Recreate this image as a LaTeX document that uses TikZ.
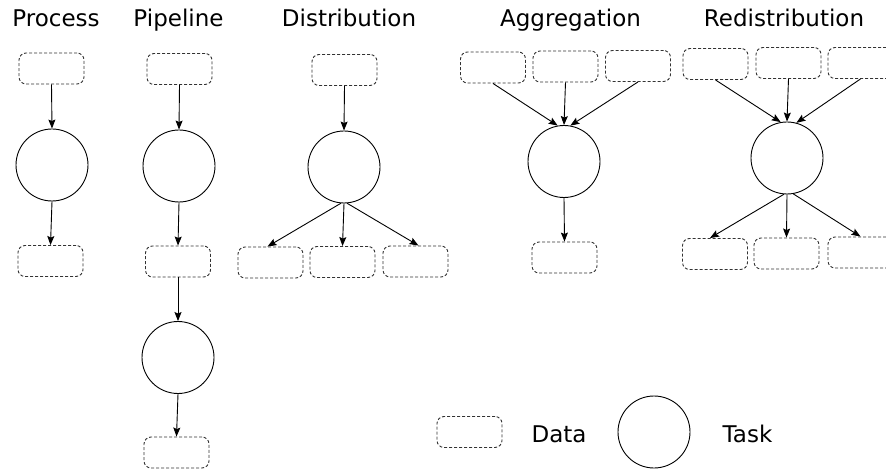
\documentclass[tikz,border=0pt]{standalone}
\usepackage{fontspec}
\setmainfont{DejaVu Sans}
\usetikzlibrary{arrows.meta}
\definecolor{dashgray}{HTML}{333333}
\tikzset{
  data/.style={draw=dashgray, line width=0.9pt, dash pattern=on 3pt off 2pt, rounded corners=7pt, minimum width=65pt, minimum height=31pt, inner sep=0pt},
  task/.style={draw=black, line width=0.9pt, circle, minimum size=72pt, inner sep=0pt},
  title/.style={anchor=base, font=\fontsize{23}{28}\selectfont},
  flow/.style={draw=black, line width=0.9pt, -{Stealth[length=9pt,width=7pt,inset=1.5pt]}}
}
\begin{document}
\begin{tikzpicture}[x=1pt,y=-1pt]
\useasboundingbox (0,0) rectangle (886,470);
\clip (0,0) rectangle (886,470);
% titles
\node[title] (tP) at (56,27) {Process};
\node[title] (tPi) at (178.5,27) {Pipeline};
\node[title] (tD) at (349,27) {Distribution};
\node[title] (tA) at (570.5,27) {Aggregation};
\node[title] (tR) at (784,27) {Redistribution};
% Process
\node[data] (p1) at (51.5,68.5) {};
\node[task] (pt) at (52,165) {};
\node[data] (p2) at (50.5,261) {};
\draw[flow] (p1.south) -- (pt.north);
\draw[flow] (pt.south) -- (p2.north);
% Pipeline
\node[data] (q1) at (179.5,69) {};
\node[task] (qt1) at (179,166) {};
\node[data] (q2) at (178,261.5) {};
\node[task] (qt2) at (178,357.5) {};
\node[data] (q3) at (176.5,452.5) {};
\draw[flow] (q1.south) -- (qt1.north);
\draw[flow] (qt1.south) -- (q2.north);
\draw[flow] (q2.south) -- (qt2.north);
\draw[flow] (qt2.south) -- (q3.north);
% Distribution
\node[data] (d0) at (344.5,70) {};
\node[task] (dt) at (344,167) {};
\node[data] (d1) at (270.5,262.5) {};
\node[data] (d2) at (342.5,262) {};
\node[data] (d3) at (415.5,261.5) {};
\draw[flow] (d0.south) -- (dt.north);
\draw[flow] (dt.265) -- ([xshift=-3pt]d1.north);
\draw[flow] (dt.south) -- (d2.north);
\draw[flow] (dt.275) -- ([xshift=3pt]d3.north);
% Aggregation
\node[data] (a1) at (493,67.5) {};
\node[data] (a2) at (565.5,66.5) {};
\node[data] (a3) at (638,66) {};
\node[task] (at) at (564,161.5) {};
\node[data] (a4) at (564.5,257.5) {};
\draw[flow] (a1.south) -- (at.100);
\draw[flow] (a2.south) -- (at.north);
\draw[flow] (a3.south) -- (at.80);
\draw[flow] (at.south) -- (a4.north);
% Redistribution
\node[data] (r1) at (715.5,64) {};
\node[data] (r2) at (788.5,63) {};
\node[data] (r3) at (860.5,63) {};
\node[task] (rt) at (787,158) {};
\node[data] (r4) at (715,254) {};
\node[data] (r5) at (786.5,253.5) {};
\node[data] (r6) at (860.5,252.5) {};
\draw[flow] (r1.south) -- (rt.100);
\draw[flow] (r2.south) -- (rt.north);
\draw[flow] (r3.south) -- (rt.75);
\draw[flow] (rt.265) -- ([xshift=-5pt]r4.north);
\draw[flow] (rt.south) -- (r5.north);
\draw[flow] (rt.280) -- (r6.north);
% legend
\node[data] (ld) at (469.5,432) {};
\node[title] (ldt) at (559,442) {Data};
\node[task] (lt) at (654,432) {};
\node[title] (ltt) at (747.5,442) {Task};
\end{tikzpicture}
\end{document}
